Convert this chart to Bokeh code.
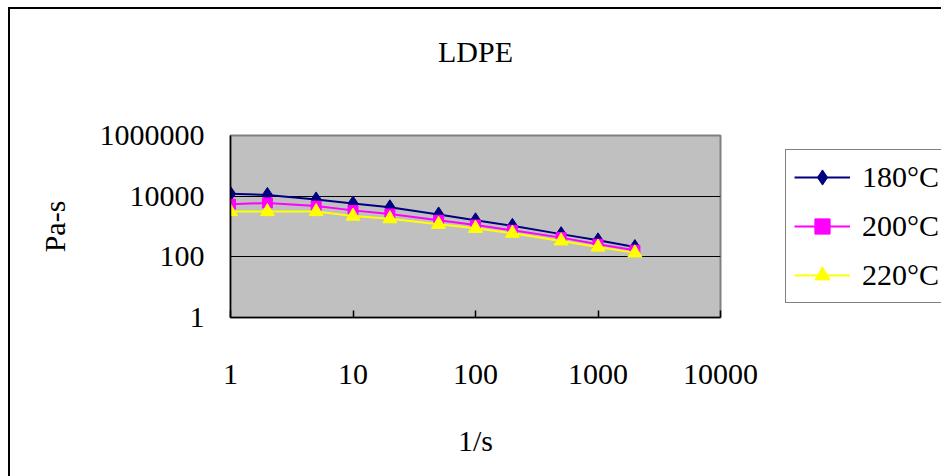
from bokeh.plotting import figure
from bokeh.models import FixedTicker, CustomJSTickFormatter, Legend, LegendItem
from bokeh.embed import file_html
from bokeh.resources import INLINE

# ---- data ----
shear_rate = [1, 2, 5, 10, 20, 50, 100, 200, 500, 1000, 2000]
visc_180 = [12000, 11000, 7800, 5700, 4300, 2500, 1600, 1050, 560, 350, 210]
visc_200 = [5400, 6000, 4700, 3400, 2600, 1600, 1120, 750, 430, 260, 165]
visc_220 = [3100, 3100, 3100, 2200, 1800, 1180, 870, 600, 335, 210, 135]
series_labels = ["180°C", "200°C", "220°C"]
x_ticks = [1, 10, 100, 1000, 10000]
y_ticks = [1, 100, 10000, 1000000]

FONT = "Liberation Serif"
FS = "30px"

p = figure(frame_width=490, frame_height=182, x_axis_type="log", y_axis_type="log",
           x_range=(1, 10000), y_range=(1, 1000000),
           output_backend="svg", toolbar_location=None,
           min_border_left=220, min_border_right=211,
           min_border_top=126, min_border_bottom=163,
           background_fill_color="#C0C0C0", border_fill_color="white")
# chart placed 10px/9px in from the page corner; an outer shadow draws the
# chart-area border along its left and top edges (right/bottom run past the window)
p.margin = (9, 0, 0, 10)
p.styles = {"box-shadow": "-2px -2px 0 0 black", "border": "0", "outline": "0"}

p.outline_line_color = "#808080"
p.outline_line_width = 2

# title (blank lines lift it toward the top of the chart area)
p.title.text = "LDPE\n \n "
p.title.align = "center"
p.title.text_font = FONT
p.title.text_font_size = FS
p.title.text_font_style = "normal"
p.title.text_color = "black"
p.title.standoff = 4

# axes
for ax in (p.xaxis[0], p.yaxis[0]):
    ax.axis_line_color = "black"
    ax.axis_line_width = 1.5
    ax.minor_tick_line_color = None
    ax.major_label_text_font = FONT
    ax.major_label_text_font_size = FS
    ax.major_label_text_color = "black"
    ax.axis_label_text_font = FONT
    ax.axis_label_text_font_size = FS
    ax.axis_label_text_font_style = "normal"
    ax.axis_label_text_color = "black"
    ax.major_tick_out = 0
    ax.formatter = CustomJSTickFormatter(code="return Math.round(tick).toString();")

p.xaxis[0].ticker = FixedTicker(ticks=x_ticks)
p.xaxis[0].major_tick_in = 7
p.xaxis[0].major_tick_line_color = "black"
p.xaxis[0].major_tick_line_width = 1.5
p.xaxis[0].major_label_standoff = 47
p.xaxis[0].axis_label = "1/s"
p.xaxis[0].axis_label_standoff = 37

p.yaxis[0].ticker = FixedTicker(ticks=y_ticks)
p.yaxis[0].major_tick_in = 0
p.yaxis[0].major_label_standoff = 26
p.yaxis[0].axis_label = "Pa-s"
p.yaxis[0].axis_label_standoff = 26

p.xgrid.grid_line_color = None
p.ygrid.ticker = FixedTicker(ticks=[100, 10000])
p.ygrid.grid_line_color = "black"
p.ygrid.grid_line_width = 1

# series
styles = [
    (visc_180, "#000080", "diamond", 15),
    (visc_200, "#FF00FF", "square", 10),
    (visc_220, "#FFFF00", "triangle", 14),
]
items = []
for (vals, col, mk, sz), lab in zip(styles, series_labels):
    lr = p.line(shear_rate, vals, line_color=col, line_width=2)
    sr = p.scatter(shear_rate, vals, marker=mk, size=sz, fill_color=col, line_color=col)
    items.append(LegendItem(label=lab, renderers=[lr, sr]))

legend = Legend(items=items, location=(65, 14))
legend.label_text_font = FONT
legend.label_text_font_size = FS
legend.label_text_color = "black"
legend.border_line_color = "black"
legend.border_line_width = 1.5
legend.background_fill_color = "white"
legend.background_fill_alpha = 1
legend.padding = 8
legend.margin = 0
legend.spacing = 11
legend.glyph_width = 56
legend.glyph_height = 38
legend.label_height = 38
legend.label_standoff = 12
legend.label_text_baseline = "middle"
p.add_layout(legend, "right")

open("out.html", "w").write(file_html(p, INLINE))
